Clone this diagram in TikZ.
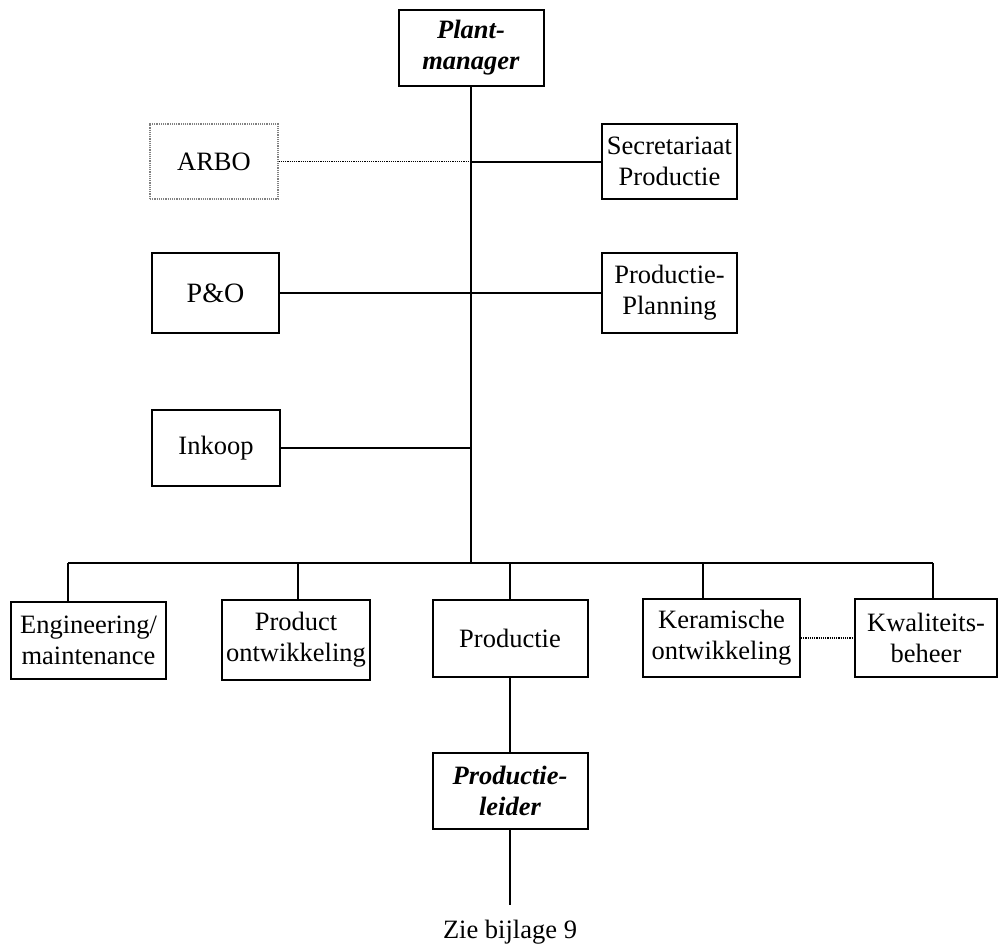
\documentclass[tikz,border=0pt]{standalone}
\usepackage{fontspec}
\setmainfont{Liberation Serif}
\newcommand{\boss}[1]{\textbf{\textit{#1}}}

\begin{document}
\begin{tikzpicture}[x=1pt,y=-1pt]
	\tikzset{unit/.style={draw,line width=2pt,align=center,inner sep=0pt,
		font=\fontsize{26.5}{31}\selectfont}}
	\tikzset{staff/.style={unit,draw=gray,line width=1.2pt,densely dotted}}
	\tikzset{link/.style={line width=2pt}}
	\tikzset{loose/.style={line width=1.2pt,densely dotted}}
	\useasboundingbox (0,0) rectangle (1001,947);
	\node[unit,minimum width=145pt,minimum height=76pt] (plant) at (471,48) {\boss{Plant-}\\\boss{manager}};
	\node[staff,minimum width=128pt,minimum height=75pt] (arbo) at (214,161.5) {ARBO};
	\node[unit,minimum width=135pt,minimum height=75pt] (secr) at (669.5,161.5) {Secretariaat\\Productie};
	\node[unit,minimum width=127pt,minimum height=80pt] (po) at (215.5,293) {\fontsize{28}{31}\selectfont P\&O};
	\node[unit,minimum width=135pt,minimum height=80pt] (plan) at (669.5,293) {Productie-\\Planning};
	\node[unit,minimum width=128pt,minimum height=76pt] (inkoop) at (216,448) {Inkoop};
	\node[unit,minimum width=155pt,minimum height=77pt] (eng) at (88.5,640.5) {Engineering/\\maintenance};
	\node[unit,minimum width=148pt,minimum height=80pt] (prod) at (296,640) {Product\\ontwikkeling};
	\node[unit,minimum width=155pt,minimum height=77pt] (prodn) at (510,638.5) {Productie};
	\node[unit,minimum width=157pt,minimum height=78pt] (kera) at (721.5,638) {Keramische\\ontwikkeling};
	\node[unit,minimum width=142pt,minimum height=78pt] (kwal) at (926,638) {Kwaliteits-\\beheer};
	\node[unit,minimum width=155pt,minimum height=76pt] (leider) at (510,791) {\boss{Productie-}\\\boss{leider}};
	\node[font=\fontsize{26.5}{31}\selectfont] (zie) at (510,932) {Zie bijlage 9};
	\coordinate (bus) at (471,563);
	\coordinate (end) at (510,905);
	\coordinate (d1) at (68,563);
	\coordinate (d2) at (298,563);
	\coordinate (d3) at (510,563);
	\coordinate (d4) at (703,563);
	\coordinate (d5) at (933,563);
	\draw[link] (plant.south) -- (bus);
	\draw[loose] (arbo.east) -- (arbo.east -| bus);
	\draw[link] (secr.west -| bus) -- (secr.west);
	\draw[link] (po.east) -- (plan.west);
	\draw[link] (inkoop.east) -- (inkoop.east -| bus);
	\draw[link] (d1) -- (d5);
	\foreach \d/\b in {d1/eng,d2/prod,d3/prodn,d4/kera,d5/kwal}
		\draw[link] (\d) -- (\d |- \b.north);
	\draw[loose] (kera.east) -- (kwal.west);
	\draw[link] (prodn.south) -- (leider.north);
	\draw[link] (leider.south) -- (end);
\end{tikzpicture}
\end{document}
